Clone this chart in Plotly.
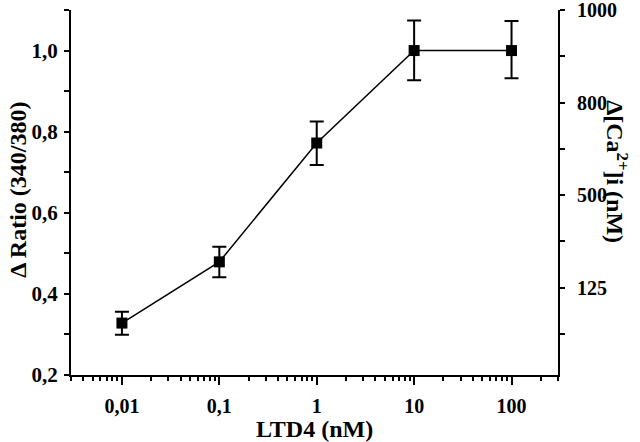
import plotly.graph_objects as go

# Data
ltd4_nM = [0.01, 0.1, 1, 10, 100]
delta_ratio = [0.328, 0.479, 0.772, 1.0, 1.0]
err_plus = [0.028, 0.037, 0.053, 0.074, 0.073]
err_minus = [0.029, 0.038, 0.054, 0.073, 0.068]

x_tick_vals = [0.01, 0.1, 1, 10, 100]
x_tick_text = ["0,01", "0,1", "1", "10", "100"]
y_tick_vals = [0.2, 0.4, 0.6, 0.8, 1.0]
y_tick_text = ["0,2", "0,4", "0,6", "0,8", "1,0"]
y_minor_vals = [0.3, 0.5, 0.7, 0.9, 1.1]
ca_tick_text = ["1000", "800", "500", "125"]

FONT = "Liberation Serif"
tickfont = dict(family=FONT, size=21, color="black", weight="bold")
xtickfont = dict(family=FONT, size=20, color="black", weight="bold")
titlefont = dict(family=FONT, size=24, color="black", weight="bold")

# minor log ticks (2..9 per decade) within the visible range 0.003..300
x_minor = [m * 10 ** e for e in range(-3, 3) for m in range(2, 10)]
x_minor = [v for v in x_minor if 0.0029 < v < 301 and v not in x_tick_vals]

fig = go.Figure()
fig.add_trace(go.Scatter(
    x=ltd4_nM, y=delta_ratio,
    mode="lines+markers",
    line=dict(color="black", width=1.5),
    marker=dict(symbol="square", size=11, color="black"),
    error_y=dict(type="data", symmetric=False, array=err_plus, arrayminus=err_minus,
                 color="black", thickness=2, width=7),
    showlegend=False,
))
# invisible trace to activate the right axis
fig.add_trace(go.Scatter(x=[1], y=[3], yaxis="y2", mode="markers",
                         marker=dict(opacity=0), showlegend=False, hoverinfo="skip"))

fig.update_layout(
    width=640, height=442,
    margin=dict(l=71, r=82, t=10, b=67),
    paper_bgcolor="white", plot_bgcolor="white",
    xaxis=dict(
        type="log", range=[-2.5229, 2.4771], automargin=False,
        tickmode="array", tickvals=x_tick_vals, ticktext=x_tick_text,
        ticks="outside", ticklen=8, tickwidth=2, tickcolor="black",
        minor=dict(tickmode="array", tickvals=x_minor, ticks="outside",
                   ticklen=4, tickwidth=1.5, tickcolor="black", showgrid=False),
        showline=True, linecolor="black", linewidth=2,
        showgrid=False, zeroline=False, tickfont=xtickfont,
        ticklabelstandoff=4,
    ),
    yaxis=dict(
        range=[0.2, 1.1], automargin=False,
        tickmode="array", tickvals=y_tick_vals, ticktext=y_tick_text,
        ticks="outside", ticklen=5, tickwidth=2, tickcolor="black",
        minor=dict(tickmode="array", tickvals=y_minor_vals, ticks="outside",
                   ticklen=5, tickwidth=2, tickcolor="black", showgrid=False),
        showline=True, linecolor="black", linewidth=2,
        showgrid=False, zeroline=False, tickfont=tickfont,
        ticklabelstandoff=2, ticklabeloverflow="allow",
    ),
    yaxis2=dict(
        overlaying="y", side="right", anchor="x", automargin=False,
        range=[-0.886, 7.002],
        tickmode="array", tickvals=[7, 5, 3, 1], ticktext=ca_tick_text,
        ticks="outside", ticklen=5, tickwidth=2, tickcolor="black",
        minor=dict(tickmode="array", tickvals=[6, 4, 2, 0], ticks="outside",
                   ticklen=5, tickwidth=2, tickcolor="black", showgrid=False),
        showline=True, linecolor="black", linewidth=2,
        showgrid=False, zeroline=False,
        tickfont=dict(family=FONT, size=20, color="black", weight="bold"),
        ticklabelstandoff=8, ticklabeloverflow="allow",
    ),
    annotations=[
        dict(text="LTD4 (nM)", xref="paper", yref="paper", x=0.501, y=-0.148,
             xanchor="center", yanchor="middle", showarrow=False, font=titlefont),
        dict(text="Δ Ratio (340/380)", xref="paper", yref="paper", x=-0.109, y=0.507,
             xanchor="center", yanchor="middle", textangle=-90, showarrow=False,
             font=dict(family=FONT, size=24, color="black", weight="bold")),
        dict(text="Δ[Ca<sup>2+</sup>]i (nM)", xref="paper", yref="paper", x=1.121, y=0.556,
             xanchor="center", yanchor="middle", textangle=90, showarrow=False,
             font=dict(family=FONT, size=24, color="black", weight="bold")),
    ],
)

fig.write_html("out.html", config={"displayModeBar": False},
               post_script="document.body.style.margin='0';")
